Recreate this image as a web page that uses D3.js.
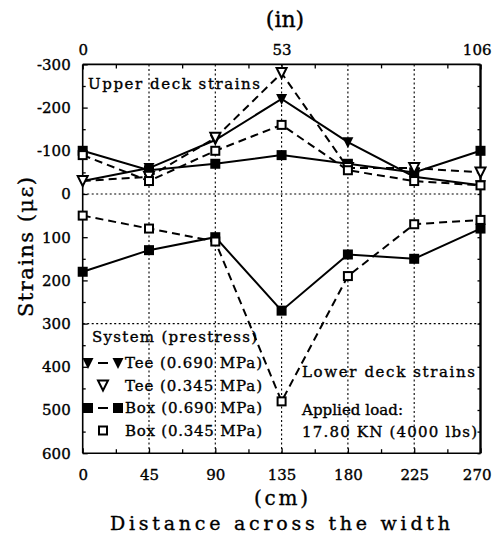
<!DOCTYPE html>
<html><head><meta charset="utf-8">
<script src="https://cdn.jsdelivr.net/npm/d3@7"></script>
<style>
body{margin:0;background:#fff}
svg{display:block}
text{font-family:"DejaVu Serif","Liberation Serif",serif;fill:#000;stroke:#000;stroke-width:0.35px}
</style>
</head><body>
<svg id="c" width="492" height="538"></svg>
<script>
// ---- data ----
const positionsCm = [0, 45, 90, 135, 180, 225, 270];
const upperTee690 = [-30, -60, -125, -220, -120, -40, -20];
const upperTee345 = [-30, -40, -130, -280, -60, -60, -50];
const upperBox690 = [-100, -55, -70, -90, -70, -50, -100];
const upperBox345 = [-90, -30, -100, -160, -55, -30, -20];
const lowerBox690 = [180, 130, 100, 270, 140, 150, 80];
const lowerBox345 = [50, 80, 110, 480, 190, 70, 60];
const yTickValues = [-300, -200, -100, 0, 100, 200, 300, 400, 500, 600];
const xTickValues = [0, 45, 90, 135, 180, 225, 270];
const inchTickValues = [0, 53, 106];
const legendLabels = ["Tee (0.690 MPa)", "Tee (0.345 MPa)", "Box (0.690 MPa)", "Box (0.345 MPa)"];

// ---- layout ----
const L = 82.7, R = 480.5, T = 64.4, B = 453.2;
const svg = d3.select("#c");
const x = d3.scaleLinear().domain([0, 270]).range([L, R]);
const xIn = d3.scaleLinear().domain([0, 106]).range([L, R]);
const y = d3.scaleLinear().domain([-300, 600]).range([T, B]);

// grid (dotted)
const grid = svg.append("g").attr("stroke", "#000").attr("stroke-width", 1.1).attr("stroke-dasharray", "2,2.5");
grid.selectAll("line.v").data(xTickValues.slice(1, -1)).join("line")
  .attr("x1", d => x(d)).attr("x2", d => x(d)).attr("y1", T).attr("y2", B);
grid.selectAll("line.h").data([0, 300]).join("line")
  .attr("y1", d => y(d)).attr("y2", d => y(d)).attr("x1", L).attr("x2", R);

// axes
const axL = svg.append("g").attr("transform", `translate(${L},0)`)
  .call(d3.axisLeft(y).tickValues(yTickValues).tickSize(-5).tickPadding(12).tickFormat(d => String(d)));
const axLm = svg.append("g").attr("transform", `translate(${L},0)`)
  .call(d3.axisLeft(y).tickValues(d3.range(-250, 600, 100)).tickSize(-3).tickFormat(""));
const axB = svg.append("g").attr("transform", `translate(0,${B})`)
  .call(d3.axisBottom(x).tickValues(xTickValues).tickSize(-5).tickPadding(16));
const axBm = svg.append("g").attr("transform", `translate(0,${B})`)
  .call(d3.axisBottom(x).tickValues(d3.range(22.5, 270, 45)).tickSize(-4).tickFormat(""));
const axT = svg.append("g").attr("transform", `translate(0,${T})`)
  .call(d3.axisTop(xIn).tickValues(inchTickValues).tickSize(-5).tickPadding(9));
const axTm = svg.append("g").attr("transform", `translate(0,${T})`)
  .call(d3.axisTop(x).tickValues(d3.range(22.5, 270, 45)).tickSize(-4).tickFormat(""));
const axR = svg.append("g").attr("transform", `translate(${R},0)`)
  .call(d3.axisRight(y).tickValues(d3.range(-300, 601, 50)).tickSize(-3).tickFormat(""));
[axL, axLm, axB, axBm, axT, axTm, axR].forEach(g => {
  g.select(".domain").remove();
  g.selectAll("line").attr("stroke", "#000").attr("stroke-width", 1.3);
  g.selectAll("text").attr("font-size", 15).attr("font-family", '"DejaVu Serif",serif').attr("fill", "#000");
});
// keep the right-most tick labels inside the window, as in the reference
axB.selectAll(".tick").filter(d => d === 270).select("text").attr("text-anchor", "end").attr("x", 491 - R);
axT.selectAll(".tick").filter(d => d === 106).select("text").attr("text-anchor", "end").attr("x", 491 - R);

// frame
svg.append("line").attr("x1", L).attr("x2", L).attr("y1", T).attr("y2", B).attr("stroke", "#000").attr("stroke-width", 1.6);
svg.append("line").attr("x1", R).attr("x2", R).attr("y1", T).attr("y2", B).attr("stroke", "#000").attr("stroke-width", 2.4);
svg.append("line").attr("x1", L).attr("x2", R).attr("y1", T).attr("y2", T).attr("stroke", "#000").attr("stroke-width", 1.6);
svg.append("line").attr("x1", L).attr("x2", R).attr("y1", B).attr("y2", B).attr("stroke", "#000").attr("stroke-width", 1.6);

// series
const series = [
  {v: upperTee690, m: "triFilled", dash: null},
  {v: upperBox690, m: "sqFilled", dash: null},
  {v: upperTee345, m: "triOpen", dash: "8,5"},
  {v: upperBox345, m: "sqOpen", dash: "8,5"},
  {v: lowerBox690, m: "sqFilled", dash: null},
  {v: lowerBox345, m: "sqOpen", dash: "8,5"}
];
const line = d3.line().x((d, i) => x(positionsCm[i])).y(d => y(d));
series.forEach(s => {
  svg.append("path").attr("d", line(s.v)).attr("fill", "none").attr("stroke", "#000")
    .attr("stroke-width", 2).attr("stroke-dasharray", s.dash);
});
function marker(g, type, cx, cy) {
  if (type === "sqFilled") {
    g.append("rect").attr("x", cx - 5).attr("y", cy - 5).attr("width", 10).attr("height", 10).attr("fill", "#000");
  } else if (type === "sqOpen") {
    g.append("rect").attr("x", cx - 4).attr("y", cy - 4).attr("width", 8).attr("height", 8)
      .attr("fill", "#fff").attr("stroke", "#000").attr("stroke-width", 2);
  } else if (type === "triFilled") {
    g.append("path").attr("d", `M${cx - 5.5},${cy - 5}L${cx + 5.5},${cy - 5}L${cx},${cy + 6}Z`).attr("fill", "#000");
  } else if (type === "triOpen") {
    g.append("path").attr("d", `M${cx - 5},${cy - 5}L${cx + 5},${cy - 5}L${cx},${cy + 5}Z`)
      .attr("fill", "#fff").attr("stroke", "#000").attr("stroke-width", 2);
  }
}
const mk = svg.append("g");
series.forEach(s => s.v.forEach((d, i) => marker(mk, s.m, x(positionsCm[i]), y(d))));

// annotations
function txt(str, tx, ty, size, len, anchor) {
  const t = svg.append("text").attr("x", tx).attr("y", ty).attr("font-size", size).text(str);
  if (len) t.attr("textLength", len).attr("lengthAdjust", "spacing");
  if (anchor) t.attr("text-anchor", anchor);
  return t;
}
txt("Upper deck strains", 88, 89, 15, 172);
txt("Lower deck strains", 302, 377, 15, 173);
txt("Applied load:", 302, 415, 15, 101);
txt("17.80 KN (4000 lbs)", 302, 437, 15, 175);

// legend
txt("System (prestress)", 92, 342, 15, 165);
const rowsY = [363, 385.5, 408, 430.5];
const lg = svg.append("g");
const legendMarkers = ["triFilled", "triOpen", "sqFilled", "sqOpen"];
legendLabels.forEach((lab, i) => {
  const cy = rowsY[i];
  if (i % 2 === 0) {
    marker(lg, legendMarkers[i], 88, cy);
    marker(lg, legendMarkers[i], 118, cy);
    lg.append("line").attr("x1", 98).attr("x2", 108).attr("y1", cy).attr("y2", cy).attr("stroke", "#000").attr("stroke-width", 2);
  } else {
    marker(lg, legendMarkers[i], 103, cy);
  }
  txt(lab, 125, cy + 5, 15, 137);
});

// axis titles
txt("(in)", 285, 27, 22, null, "middle");
txt("(cm)", 281, 505, 20, 54, "middle");
txt("Distance across the width", 280, 530, 19, 340, "middle");
svg.append("text").attr("transform", "translate(33,247) rotate(-90)").attr("text-anchor", "middle")
  .attr("font-size", 21).attr("textLength", 140).attr("lengthAdjust", "spacing").text("Strains (\u03bc\u03b5)");
</script>
</body></html>
